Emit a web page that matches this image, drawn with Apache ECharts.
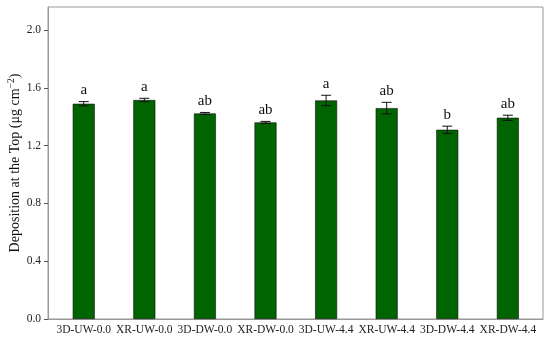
<!DOCTYPE html>
<html>
<head>
<meta charset="utf-8">
<script src="https://cdn.jsdelivr.net/npm/echarts@6/dist/echarts.min.js"></script>
<style>
  html, body { margin: 0; padding: 0; background: #fff; }
  #main { width: 550px; height: 337px; }
</style>
</head>
<body>
<div id="main"></div>
<script>
const categories = ['3D-UW-0.0', 'XR-UW-0.0', '3D-DW-0.0', 'XR-DW-0.0', '3D-UW-4.4', 'XR-UW-4.4', '3D-DW-4.4', 'XR-DW-4.4'];
const means = [1.49, 1.516, 1.423, 1.361, 1.513, 1.46, 1.31, 1.393];
const errors = [0.015, 0.012, 0.007, 0.007, 0.036, 0.04, 0.025, 0.018];
const letters = ['a', 'a', 'ab', 'ab', 'a', 'ab', 'b', 'ab'];
const yTicks = [0, 0.4, 0.8, 1.2, 1.6, 2.0];

const serif = 'Liberation Serif';
const chart = echarts.init(document.getElementById('main'));

const barData = categories.map((c, i) => [i, means[i]]);
const errData = categories.map((c, i) => [i, means[i], errors[i]]);

option = {
    animation: false,
    grid: {
        left: 48, right: 7, top: 7, bottom: 18,
        outerBoundsMode: 'none',
        containLabel: false,
        show: true, borderColor: '#999', borderWidth: 1
    },
    xAxis: {
        type: 'value',
        min: -0.59,
        max: 7.58,
        splitLine: { show: false },
        axisLine: { show: true, onZero: false, lineStyle: { color: '#999' } },
        axisTick: { show: false },
        axisLabel: {
            customValues: categories.map((c, i) => i),
            formatter: (v) => categories[Math.round(v)] || '',
            fontFamily: serif, fontSize: 11.5, color: '#222', margin: 5
        }
    },
    yAxis: {
        type: 'value',
        min: 0,
        max: 2.16,
        splitLine: { show: false },
        axisLine: { show: true, onZero: false, lineStyle: { color: '#999' } },
        axisTick: { show: true, length: 4, customValues: yTicks, lineStyle: { color: '#555' } },
        axisLabel: {
            customValues: yTicks,
            formatter: (v) => v.toFixed(1),
            fontFamily: serif, fontSize: 11.5, color: '#222', margin: 7
        },
        name: 'Deposition at the Top (μg cm{sup|−2})',
        nameLocation: 'middle',
        nameGap: 24,
        nameMoveOverlap: false,
        nameTextStyle: {
            fontFamily: serif, fontSize: 14, color: '#111',
            rich: { sup: { fontFamily: serif, fontSize: 9.5, color: '#111', padding: [0, 0, 8, 0] } }
        }
    },
    series: [
        {
            type: 'bar',
            data: barData,
            barWidth: 22,
            itemStyle: { color: '#006400', borderColor: '#111', borderWidth: 0.6 }
        },
        {
            type: 'custom',
            data: errData,
            z: 5,
            renderItem: (params, api) => {
                const x = api.value(0);
                const m = api.value(1);
                const e = api.value(2);
                const top = api.coord([x, m + e]);
                const bot = api.coord([x, m - e]);
                const w = 5;
                const style = { stroke: '#111', lineWidth: 1 };
                return {
                    type: 'group',
                    children: [
                        { type: 'line', shape: { x1: top[0], y1: top[1], x2: bot[0], y2: bot[1] }, style },
                        { type: 'line', shape: { x1: top[0] - w, y1: top[1], x2: top[0] + w, y2: top[1] }, style },
                        { type: 'line', shape: { x1: bot[0] - w, y1: bot[1], x2: bot[0] + w, y2: bot[1] }, style },
                        {
                            type: 'text',
                            style: {
                                text: letters[params.dataIndex],
                                x: top[0], y: top[1] - 4,
                                align: 'center', verticalAlign: 'bottom',
                                font: '15px "Liberation Serif"', fill: '#111'
                            }
                        }
                    ]
                };
            }
        }
    ]
};

chart.setOption(option);
</script>
</body>
</html>
